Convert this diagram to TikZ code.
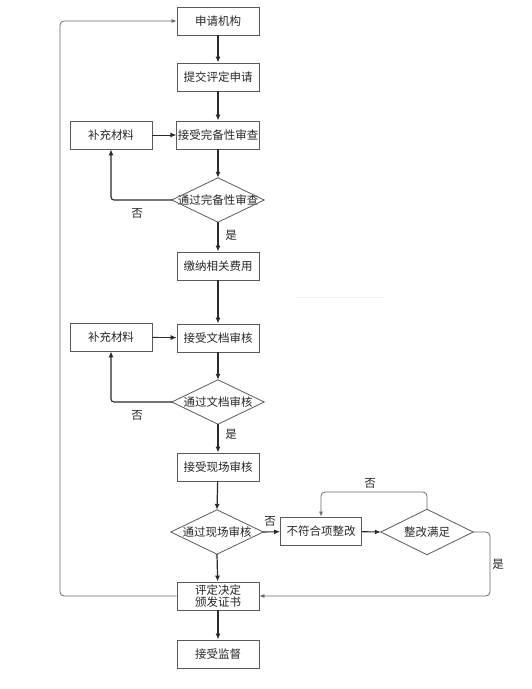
\documentclass[tikz,border=0pt]{standalone}
\usepackage{fontspec}
\newfontfamily\cjk{Noto Sans CJK SC}
\usetikzlibrary{arrows.meta,positioning}
\definecolor{boxline}{HTML}{5A5A5A}
\definecolor{arrowline}{HTML}{2A2A2A}
\definecolor{loopline}{HTML}{6A6A6A}
\tikzset{
  every node/.style={font=\cjk\fontsize{11.5}{13}\selectfont, text=black!85},
  procbox/.style={draw=boxline, line width=0.8pt, minimum width=82pt, minimum height=28pt, inner sep=1pt, align=center},
  decbox/.style={minimum width=92pt, minimum height=44pt, inner sep=0pt},
  diamondline/.style={draw=boxline, line width=0.8pt},
  mainarrow/.style={draw=arrowline, line width=1.2pt, -{Latex[length=6pt,width=5pt]}},
  sidearrow/.style={draw=arrowline, line width=1.1pt, rounded corners=3pt, -{Latex[length=6pt,width=5pt]}},
  looparrow/.style={draw=loopline, line width=0.8pt, rounded corners=4pt, -{Latex[length=5pt,width=4pt]}},
  lbl/.style={inner sep=0pt}
}
\begin{document}
\begin{tikzpicture}[x=1pt,y=-1pt]
\useasboundingbox (0,0) rectangle (531,689);
% faint artifact line
\draw[draw=black!5, line width=0.6pt] (295,297) -- (385,297);

\node[procbox] (n1) at (218,21) {申请机构};
\node[procbox] (n2) at (218,77) {提交评定申请};
\node[procbox] (n3) at (218,135) {接受完备性审查};
\node[procbox] (s1) at (111,135) {补充材料};
\node[decbox] (d1) at (218,200) {通过完备性审查};
\node[procbox] (n4) at (218,266) {缴纳相关费用};
\node[procbox] (n5) at (218,338) {接受文档审核};
\node[procbox] (s2) at (111,337) {补充材料};
\node[decbox] (d2) at (218,402) {通过文档审核};
\node[procbox] (n6) at (218,467) {接受现场审核};
\node[decbox] (d3) at (217,532) {通过现场审核};
\node[procbox, minimum width=81pt] (n7) at (321,531) {不符合项整改};
\node[decbox, minimum height=45pt] (d4) at (427,532) {整改满足};
\node[procbox, font=\cjk\fontsize{11.5}{11.5}\selectfont] (n8) at (218,596) {评定决定\\颁发证书};
\node[procbox] (n9) at (218,654) {接受监督};

\foreach \d in {d1,d2,d3,d4}{
  \draw[diamondline] (\d.north) -- (\d.east) -- (\d.south) -- (\d.west) -- cycle;
}

% main flow
\draw[mainarrow] (n1) -- (n2);
\draw[mainarrow] (n2) -- (n3);
\draw[mainarrow] (n3) -- (d1.north);
\draw[mainarrow] (d1.south) -- (n4);
\draw[mainarrow] (n4) -- (n5);
\draw[mainarrow] (n5) -- (d2.north);
\draw[mainarrow] (d2.south) -- (n6);
\draw[mainarrow] (n6) -- (d3.north);
\draw[mainarrow] (d3.south) -- (n8);
\draw[mainarrow] (n8) -- (n9);
\draw[mainarrow, line width=1.1pt] (d3.east) -- (n7);
\draw[mainarrow, line width=1.1pt] (n7) -- (d4.west);

% supplement loops
\draw[sidearrow, line width=0.9pt] (s1) -- (n3);
\draw[sidearrow] (d1.west) -| (s1.south);
\draw[sidearrow, line width=0.9pt] (s2) -- (n5);
\draw[sidearrow] (d2.west) -| (s2.south);

% rectification loop
\coordinate (c1) at (427,492);
\draw[looparrow] (d4.north) -- (c1) -| (n7.north);
\coordinate (c2) at (490,532);
\draw[looparrow] (d4.east) -- (c2) |- (n8.east);

% big return loop
\coordinate (c3) at (60,596);
\draw[looparrow] (n8.west) -- (c3) |- (n1.west);

% labels
\node[lbl] (l1) at (137,213) {否};
\node[lbl] (l2) at (231,235) {是};
\node[lbl] (l3) at (137,415) {否};
\node[lbl] (l4) at (231,434) {是};
\node[lbl] (l5) at (270,521) {否};
\node[lbl] (l6) at (370,483) {否};
\node[lbl] (l7) at (498,564) {是};
\end{tikzpicture}
\end{document}
